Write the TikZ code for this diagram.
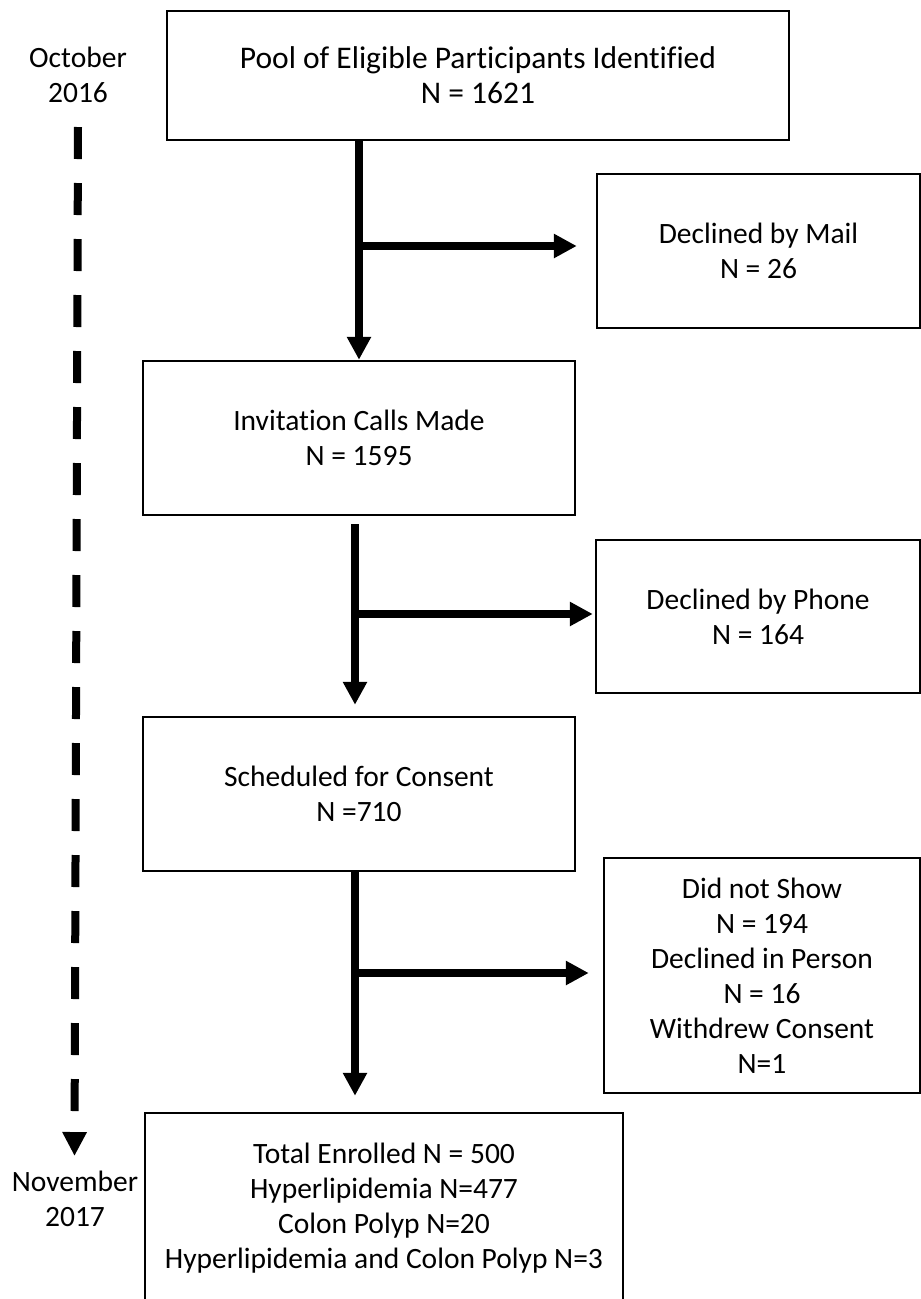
\documentclass[tikz,border=0pt]{standalone}
\usepackage{fontspec}
\setmainfont{Carlito}[Ligatures=NoCommon]
\usetikzlibrary{arrows.meta}
\begin{document}
\begin{tikzpicture}[x=1pt,y=-1pt,
  box/.style={draw, line width=2.5pt, align=center, inner sep=0pt, font=\fontsize{29.5}{35}\selectfont},
  lbl/.style={align=center, inner sep=0pt, font=\fontsize{29.5}{35}\selectfont},
  flow/.style={line width=7.5pt, -{Triangle[width=23pt,length=23pt]}},
  timeline/.style={line width=8pt, dash pattern=on 32pt off 24pt, -{Triangle[width=23pt,length=24pt]}}
  ]
\useasboundingbox (0,0) rectangle (921,1299);
\fill[white] (0,0) rectangle (921,1299);

\node[box, minimum width=622pt, minimum height=129pt, font=\fontsize{31.5}{35}\selectfont] (pool) at (478,75.5) {Pool of Eligible Participants Identified\\N = 1621};
\node[box, minimum width=323pt, minimum height=154pt] (mail) at (758.5,251) {Declined by Mail\\N = 26};
\node[box, minimum width=432pt, minimum height=154pt] (inv) at (359,438) {Invitation Calls Made\\N = 1595};
\node[box, minimum width=324pt, minimum height=153pt] (phone) at (758,616.5) {Declined by Phone\\N = 164};
\node[box, minimum width=432pt, minimum height=154pt] (sched) at (359,794) {Scheduled for Consent\\N =710};
\node[box, minimum width=316pt, minimum height=235pt] (dns) at (762,975.5) {Did not Show\\N = 194\\Declined in Person\\N = 16\\Withdrew Consent\\N=1};
\node[box, minimum width=478pt, minimum height=191pt] (total) at (384,1208.5) {Total Enrolled N = 500\\Hyperlipidemia N=477\\Colon Polyp N=20\\Hyperlipidemia and Colon Polyp N=3};

\node[lbl] (oct) at (78,74.5) {October\\2016};
\node[lbl] (nov) at (75,1198.5) {November\\2017};
\coordinate (tl0) at (78,127);
\coordinate (tl1) at (74.5,1156);
\draw[timeline] (tl0) -- (tl1);

\draw[flow] (pool.south -| inv.north) -- (inv.north);
\coordinate (b1) at (359,246);
\draw[flow, shorten >=19pt] (b1) -- (b1 -| mail.west);

\draw[flow, shorten <=8pt, shorten >=11pt] ([xshift=-4pt]inv.south) -- ([xshift=-4pt]sched.north);
\coordinate (b2) at (355,614);
\draw[flow, shorten >=2pt] (b2) -- (b2 -| phone.west);

\draw[flow, shorten >=16pt] ([xshift=-4pt]sched.south) -- ([xshift=-4pt]sched.south |- total.north);
\coordinate (b3) at (355,973);
\draw[flow, shorten >=14pt] (b3) -- (b3 -| dns.west);
\end{tikzpicture}
\end{document}
